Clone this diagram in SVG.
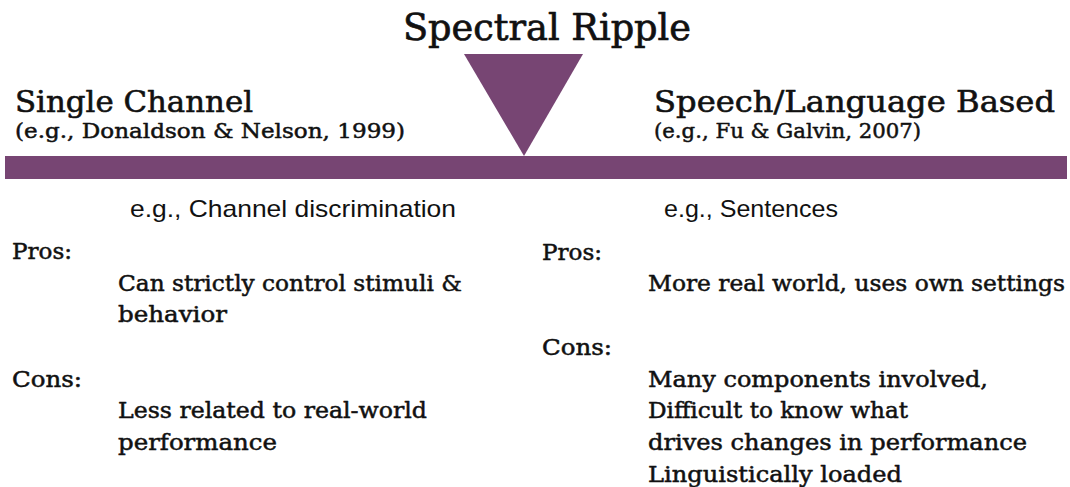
<svg xmlns="http://www.w3.org/2000/svg" width="1070" height="487" viewBox="0 0 1070 487">
  <style>
    .slab { font-family: "DejaVu Serif", "Liberation Serif", serif; fill: #111111; stroke: #111111; stroke-linejoin: round; }
    .sans { font-family: "Liberation Sans", Arial, sans-serif; fill: #111111; }
    .title { font-size: 37px; stroke-width: 0.7px; }
    .head { font-size: 30px; stroke-width: 0.6px; }
    .cite { font-size: 21px; stroke-width: 0.5px; }
    .body { font-size: 21.5px; stroke-width: 0.5px; }
    .eg { font-size: 24px; }
    .accent { fill: #774573; }
  </style>

  <rect width="1070" height="487" fill="#ffffff"/>

  <!-- title and pointer -->
  <g id="title">
    <text class="slab title" x="403" y="40" textLength="288" lengthAdjust="spacingAndGlyphs">Spectral Ripple</text>
  </g>
  <g id="pointer">
    <polygon class="accent" points="464,54 583,54 524,156"/>
  </g>

  <!-- the spectrum bar -->
  <g id="bar">
    <rect class="accent" x="5" y="156" width="1062" height="23"/>
  </g>

  <!-- left end: single channel -->
  <g id="single-channel">
    <text class="slab head" x="15" y="112" textLength="238" lengthAdjust="spacingAndGlyphs">Single Channel</text>
    <text class="slab cite" x="15" y="138" textLength="390" lengthAdjust="spacingAndGlyphs">(e.g., Donaldson &amp; Nelson, 1999)</text>
    <text class="sans eg" x="130" y="217" textLength="326" lengthAdjust="spacingAndGlyphs">e.g., Channel discrimination</text>
    <text class="slab body" x="12" y="259" textLength="60" lengthAdjust="spacingAndGlyphs">Pros:</text>
    <text class="slab body" x="118" y="290.5" textLength="344" lengthAdjust="spacingAndGlyphs">Can strictly control stimuli &amp;</text>
    <text class="slab body" x="118" y="321.5" textLength="109" lengthAdjust="spacingAndGlyphs">behavior</text>
    <text class="slab body" x="12" y="386.5" textLength="70" lengthAdjust="spacingAndGlyphs">Cons:</text>
    <text class="slab body" x="118" y="418" textLength="309" lengthAdjust="spacingAndGlyphs">Less related to real-world</text>
    <text class="slab body" x="118" y="450" textLength="159" lengthAdjust="spacingAndGlyphs">performance</text>
  </g>

  <!-- right end: speech / language -->
  <g id="speech-language">
    <text class="slab head" x="654" y="112" textLength="401" lengthAdjust="spacingAndGlyphs">Speech/Language Based</text>
    <text class="slab cite" x="654" y="138" textLength="267" lengthAdjust="spacingAndGlyphs">(e.g.,  Fu &amp; Galvin, 2007)</text>
    <text class="sans eg" x="664" y="217" textLength="174" lengthAdjust="spacingAndGlyphs">e.g., Sentences</text>
    <text class="slab body" x="542" y="259.5" textLength="60" lengthAdjust="spacingAndGlyphs">Pros:</text>
    <text class="slab body" x="648" y="291" textLength="417" lengthAdjust="spacingAndGlyphs">More real world, uses own settings</text>
    <text class="slab body" x="542" y="355" textLength="70" lengthAdjust="spacingAndGlyphs">Cons:</text>
    <text class="slab body" x="648" y="387" textLength="340" lengthAdjust="spacingAndGlyphs">Many components involved,</text>
    <text class="slab body" x="648" y="418" textLength="260" lengthAdjust="spacingAndGlyphs">Difficult to know what</text>
    <text class="slab body" x="648" y="450" textLength="379" lengthAdjust="spacingAndGlyphs">drives changes in performance</text>
    <text class="slab body" x="648" y="481.5" textLength="254" lengthAdjust="spacingAndGlyphs">Linguistically loaded</text>
  </g>
</svg>
